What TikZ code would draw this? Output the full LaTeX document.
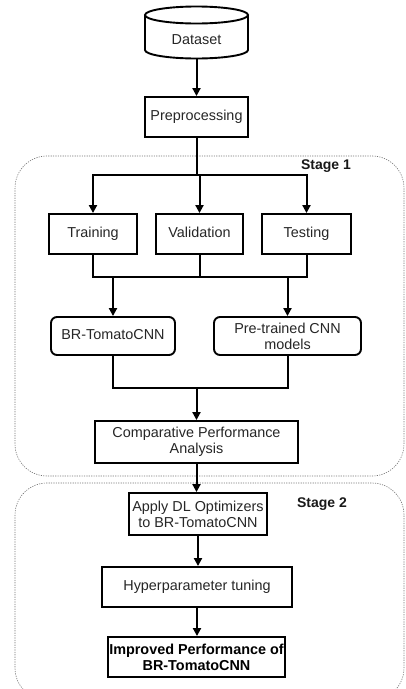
\documentclass[tikz,border=0pt]{standalone}
\usepackage{fontspec}
\setmainfont{Liberation Sans}
\usetikzlibrary{arrows.meta}
\begin{document}
\begin{tikzpicture}[x=1pt,y=1pt,
  box/.style={draw=black, line width=1.9pt, text=black!85, align=center, inner sep=1pt,
    font=\fontsize{14.4}{16}\selectfont},
  one/.style={text height=10.5pt, text depth=3pt},
  rbox/.style={box, rounded corners=6pt},
  conn/.style={line width=2pt, black},
  arr/.style={conn, -{Triangle[length=8pt,width=8pt]}},
  stage/.style={draw=black!55, line width=0.6pt, dash pattern=on 1.2pt off 1.2pt, rounded corners=32pt},
  stagelbl/.style={font=\fontsize{14}{16}\selectfont\bfseries, text=black!90, inner sep=0pt}]
\useasboundingbox (0,0) rectangle (406,-689);
% stage regions
\draw[stage] (15,-156) rectangle (404,-476);
\draw[stage] (15,-483) rectangle (404,-700);
\node[stagelbl] (s1) at (326,-166) {Stage 1};
\node[stagelbl] (s2) at (322,-504) {Stage 2};
% dataset cylinder
\draw[line width=1.9pt, fill=white] (145,-15) -- (145,-50) arc[start angle=180, end angle=360, x radius=51.5, y radius=8.5] -- (248,-15);
\draw[line width=1.9pt] (196.5,-15) ellipse[x radius=51.5, y radius=8.5];
\node[text=black!85, font=\fontsize{14.4}{16}\selectfont, minimum width=103pt, minimum height=35pt, inner sep=0pt, one] (ds) at (196.5,-40.5) {Dataset};
% boxes
\node[box, one, minimum width=103pt, minimum height=40pt] (pre) at (196.5,-117) {Preprocessing};
\node[box, one, minimum width=88pt, minimum height=40pt] (train) at (93,-234) {Training};
\node[box, one, minimum width=87pt, minimum height=40pt] (val) at (199.5,-234) {Validation};
\node[box, one, minimum width=89pt, minimum height=40pt] (test) at (306.5,-234) {Testing};
\node[rbox, one, minimum width=124pt, minimum height=38pt] (br) at (113,-336) {BR-TomatoCNN};
\node[rbox, minimum width=147pt, minimum height=38pt] (ptm) at (287.5,-336) {Pre-trained CNN\\models};
\node[box, minimum width=203pt, minimum height=42pt] (cmp) at (196.5,-442) {Comparative Performance\\Analysis};
\node[box, minimum width=138pt, minimum height=42pt] (app) at (198,-514) {Apply DL Optimizers\\to BR-TomatoCNN};
\node[box, one, minimum width=190pt, minimum height=40pt] (hyp) at (197,-587) {Hyperparameter tuning};
\node[box, minimum width=175pt, minimum height=40pt, text=black, font=\fontsize{14.4}{16}\selectfont\bfseries] (imp) at (196.5,-657) {Improved Performance of\\BR-TomatoCNN};
% junctions
\coordinate (j1) at (196.5,-175);
\coordinate (j2) at (0,-277);
\coordinate (j3) at (196.5,-388);
% connectors
\draw[arr] (ds.south) -- (pre.north);
\draw[conn] (pre.south) -- (j1);
\draw[arr] (j1) -| (train.north);
\draw[arr] (j1) -| (test.north);
\draw[arr] (j1) -- (j1 -| val.north) -- (val.north);
\draw[conn] (train.south) |- (test.south |- j2) -- (test.south);
\draw[conn] (val.south) -- (val.south |- j2);
\draw[arr] (br.north |- j2) -- (br.north);
\draw[arr] (ptm.north |- j2) -- (ptm.north);
\draw[conn] (br.south) |- (ptm.south |- j3) -- (ptm.south);
\draw[arr] (j3) -- (cmp.north);
\draw[arr] (cmp.south) -- (app.north -| cmp.south);
\draw[arr] (app.south) -- (hyp.north -| app.south);
\draw[arr] (hyp.south) -- (imp.north -| hyp.south);
\end{tikzpicture}
\end{document}
